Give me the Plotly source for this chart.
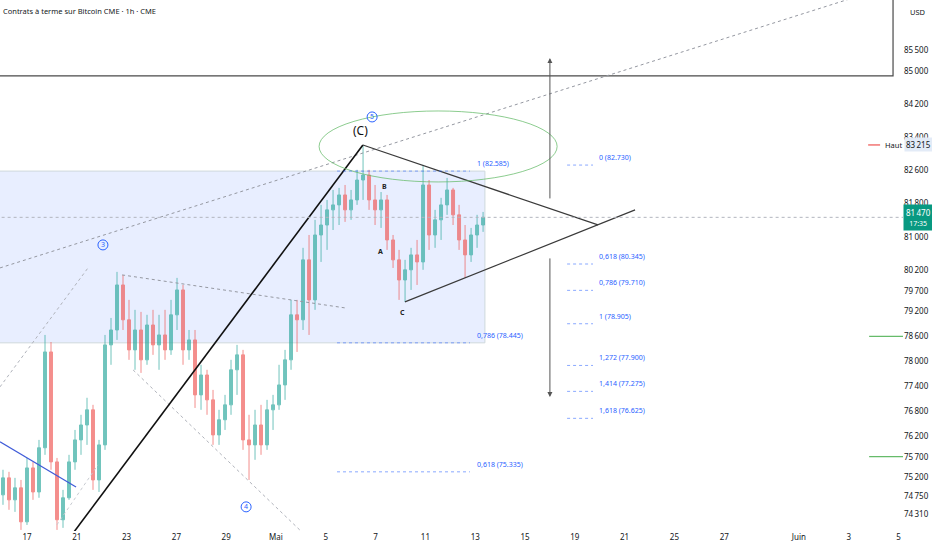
"""CME Bitcoin futures 1h chart with Elliott wave / fib drawings."""

import plotly.graph_objects as go

# Price bars (resampled to ~6h), x = trading-session days counted from 17 April
bar_open = [
    74780, 75190, 74660, 74950, 74130, 75430, 74850, 75915, 78225, 75575,
    74180, 74710, 75575, 76105, 76465, 76830, 75140, 75985, 78395, 78755,
    79840, 79000, 78275, 78755, 78035, 78875, 78395, 78635, 78275, 79120,
    79720, 78275, 78515, 77190, 77670, 77070, 76225, 76590, 76950, 77795,
    78155, 76105, 75985, 76465, 75985, 76830, 76950, 77430, 78035, 79120,
    79000, 80445, 79480, 81045, 81285, 81650, 81770, 82010, 81650, 81890,
    82370, 82490, 81890, 81650, 81890, 80925, 80445, 79960, 80205, 80565,
    80395, 82250, 81045, 81410, 81770, 82130, 81530, 80925, 80565, 81045,
    81285,
]
bar_high = [
    75385, 75335, 75190, 75140, 75670, 75575, 76105, 78635, 78465, 75670,
    74900, 75745, 76345, 76710, 77120, 76950, 76105, 78635, 79045, 80155,
    80080, 79480, 79240, 79190, 79120, 79240, 79120, 79240, 79480, 80010,
    79840, 78755, 78755, 77915, 77795, 77310, 76830, 77190, 78035, 78395,
    78275, 76710, 76830, 76950, 77070, 77190, 77915, 78275, 79480, 79480,
    80735, 81045, 81410, 81770, 81890, 82130, 82180, 82250, 82130, 82615,
    83215, 82615, 82250, 82080, 82010, 81045, 80685, 80445, 80735, 80925,
    82735, 82370, 81650, 81940, 82420, 82180, 81770, 81285, 81215, 81530,
    81600,
]
bar_low = [
    74540, 74420, 74370, 73935, 74055, 74660, 74710, 75745, 75385, 73935,
    73985, 74660, 75385, 75745, 75985, 74900, 74850, 75865, 77915, 78515,
    78755, 78035, 77795, 77720, 77915, 78155, 77795, 78035, 78155, 78755,
    77915, 78035, 76875, 76830, 76710, 75985, 75985, 76345, 76710, 77190,
    75865, 75140, 75625, 75745, 75865, 76345, 76830, 77070, 77795, 78225,
    78755, 78635, 79240, 80395, 80685, 81165, 81285, 81360, 81410, 81770,
    81890, 81650, 81285, 81215, 80685, 80250, 79480, 79430, 79720, 79840,
    80205, 80685, 80735, 80925, 81530, 81285, 80685, 80010, 80395, 80735,
    81120,
]
bar_close = [
    75190, 74660, 74950, 74130, 75430, 74850, 75915, 78225, 75575, 74180,
    74710, 75575, 76105, 76465, 76830, 75140, 75985, 78395, 78755, 79840,
    79000, 78275, 78755, 78035, 78875, 78395, 78635, 78275, 79120, 79720,
    78275, 78515, 77190, 77670, 77070, 76225, 76590, 76950, 77795, 78155,
    76105, 75985, 76465, 75985, 76830, 76950, 77430, 78035, 79120, 79000,
    80445, 79480, 81045, 81285, 81650, 81770, 82010, 81650, 81890, 82370,
    82490, 81890, 81650, 81890, 80925, 80445, 79960, 80205, 80565, 80395,
    82250, 81045, 81410, 81770, 82130, 81530, 80925, 80565, 81045, 81285,
    81470,
]
BAR_START = -0.964
BAR_STEP = 0.241
bar_x = [BAR_START + BAR_STEP * i for i in range(len(bar_close))]

date_ticks = [0, 2, 4, 6, 8, 10, 12, 14, 16, 18, 20, 22, 24, 26, 28, 31, 33, 35]
date_labels = ["17", "21", "23", "27", "29", "Mai", "5", "7", "11", "13", "15",
               "19", "21", "25", "27", "Juin", "3", "5"]
price_ticks = [85500, 85000, 84200, 83400, 82600, 81800, 81000, 80200, 79700,
               79200, 78600, 78000, 77400, 76800, 76200, 75700, 75200, 74750, 74310]

fib_left_ratio = ["1", "0,786", "0,618"]
fib_left_price = [82585, 78445, 75335]
fib_right_ratio = ["0", "0,618", "0,786", "1", "1,272", "1,414", "1,618"]
fib_right_price = [82730, 80345, 79710, 78905, 77900, 77275, 76625]

last_price = 81470
high_price = 83215
alert_prices = [78600, 75700]

FIB_BLUE = "#2962ff"
GREY = "#9598a1"


def fmt_price(p, sep="\u202f"):
    return f"{p // 1000}{sep}{p % 1000:03d}"


def segment(fig, x0, y0, x1, y1, color, width=1, dash="solid"):
    fig.add_shape(type="line", x0=x0, y0=y0, x1=x1, y1=y1,
                  line=dict(color=color, width=width, dash=dash))


fig = go.Figure()

# fib retracement box behind price
fig.add_shape(type="rect", x0=-1.5, x1=18.39, y0=fib_left_price[1], y1=fib_left_price[0],
              fillcolor="rgba(41,98,255,0.11)", line=dict(color="#cfd8dc", width=1),
              layer="below")

fig.add_trace(
    go.Candlestick(
        x=bar_x, open=bar_open, high=bar_high, low=bar_low, close=bar_close,
        increasing=dict(line=dict(color="#26a69a", width=1), fillcolor="#26a69a"),
        decreasing=dict(line=dict(color="#ef5350", width=1), fillcolor="#ef5350"),
        opacity=0.65, showlegend=False, hoverinfo="skip",
    )
)

# top-left rectangle drawing
fig.add_shape(type="rect", x0=-3, x1=34.78, y0=84878, y1=89000,
              line=dict(color="#4a4a4a", width=1.2))

# trend lines
segment(fig, -1.084, 80251, 35.06, 87119, GREY, 1, "dot")
segment(fig, 3.82, 80082, 12.77, 79287, GREY, 1, "dot")
segment(fig, -1.084, 77383, 2.45, 80251, "#b0b3bb", 1, "dot")
segment(fig, 4.26, 77792, 11.16, 73816, "#b0b3bb", 1, "dot")
segment(fig, 1.20, 74057, 2.85, 75503, "#c8cbd1", 1, "dot")
segment(fig, -1.084, 76057, 1.97, 74972, "#3f5bd8", 1.2)
segment(fig, 1.65, 73696, 13.49, high_price, "#111111", 1.6)
segment(fig, 13.49, high_price, 22.93, 81287, "#3a3a3a", 1.2)
segment(fig, 15.18, 79431, 24.42, 81649, "#3a3a3a", 1.2)

# current price line
segment(fig, -1.5, last_price, 36, last_price, "#b2b5be", 1, "dot")

# ellipse around (C)
fig.add_shape(type="circle", x0=11.73, x1=21.29, y0=82323, y1=84034,
              line=dict(color="rgba(102,187,106,0.75)", width=1))

# fib levels
for ratio, price in zip(fib_left_ratio, fib_left_price):
    segment(fig, 12.45, price, 17.79, price, "rgba(41,98,255,0.55)", 1, "dot")
    fig.add_annotation(x=17.99, y=price, text=f"{ratio} ({fmt_price(price, '.')})",
                       xanchor="left", yanchor="bottom", showarrow=False, yshift=1,
                       font=dict(size=7, color=FIB_BLUE))
for ratio, price in zip(fib_right_ratio, fib_right_price):
    segment(fig, 21.69, price, 22.73, price, "rgba(41,98,255,0.55)", 1, "dot")
    fig.add_annotation(x=22.89, y=price, text=f"{ratio} ({fmt_price(price, '.')})",
                       xanchor="left", yanchor="bottom", showarrow=False, yshift=1,
                       font=dict(size=7, color=FIB_BLUE))

# projection arrows
for tail, head in [(81890, 85312), (80516, 77142)]:
    fig.add_annotation(x=21.0, y=head, ax=21.0, ay=tail, xref="x", yref="y",
                       axref="x", ayref="y", text="", showarrow=True,
                       arrowhead=2, arrowsize=1, arrowwidth=1, arrowcolor="#555555")

# wave labels
for num, xx, yy in [("5", 13.86, 83890), ("3", 3.05, 80805), ("4", 8.80, 74491)]:
    fig.add_shape(type="circle", xref="x", yref="y", xsizemode="pixel",
                  ysizemode="pixel", xanchor=xx, yanchor=yy,
                  x0=-5, x1=5, y0=-5, y1=5, line=dict(color=FIB_BLUE, width=1))
    fig.add_annotation(x=xx, y=yy, text=num, showarrow=False,
                       font=dict(size=7, color=FIB_BLUE))
fig.add_annotation(x=13.41, y=83552, text="(C)", showarrow=False,
                   font=dict(size=12, color="#111111"))
for lab, xx, yy in [("A", 14.18, 80636), ("B", 14.34, 82203), ("C", 15.10, 79166)]:
    fig.add_annotation(x=xx, y=yy, text=f"<b>{lab}</b>", showarrow=False,
                       font=dict(size=7, color="#222222"))

# right-edge markers
segment(fig, 33.78, high_price, 34.26, high_price, "#ef5350", 1.2)
fig.add_annotation(x=34.36, y=high_price, text="Haut", xanchor="left", showarrow=False,
                   font=dict(size=7.5, color="#131722"))
fig.add_annotation(xref="paper", x=1, y=high_price, text=fmt_price(high_price),
                   xanchor="left", showarrow=False, bgcolor="#e3ebf7", xshift=1,
                   font=dict(size=8, color="#131722"))
for price in alert_prices:
    segment(fig, 33.82, price, 35.3, price, "#66bb6a", 1.2)
fig.add_annotation(xref="paper", x=1, y=last_price,
                   text=f"{fmt_price(last_price)}<br><span style='font-size:7px'>17:35</span>",
                   xanchor="left", showarrow=False, bgcolor="#089981", xshift=0,
                   borderpad=2, font=dict(size=8, color="white"))

fig.add_annotation(xref="paper", yref="paper", x=0, y=1, xanchor="left", yanchor="top",
                   xshift=1, yshift=-4, showarrow=False,
                   text="Contrats à terme sur Bitcoin CME · 1h · CME",
                   font=dict(size=7.5, color="#131722"))
fig.add_annotation(xref="paper", yref="paper", x=1, y=1, xanchor="left", yanchor="top",
                   xshift=5, yshift=-5, showarrow=False, text="USD",
                   font=dict(size=7.5, color="#131722"))

fig.update_xaxes(
    range=[-1.084, 35.18], tickvals=date_ticks, ticktext=date_labels,
    showgrid=False, zeroline=False, showline=False, ticks="",
    rangeslider=dict(visible=False), fixedrange=True,
    tickfont=dict(size=8, color="#131722"),
)
fig.update_yaxes(
    range=[73909, 86709], side="right", tickvals=price_ticks,
    ticktext=[fmt_price(p) for p in price_ticks],
    showgrid=False, zeroline=False, showline=False, ticks="",
    tickfont=dict(size=8, color="#131722"),
)
fig.update_layout(
    width=932, height=550,
    margin=dict(l=0, r=29, t=0, b=19),
    paper_bgcolor="white", plot_bgcolor="white",
    font=dict(family="Noto Sans, DejaVu Sans, sans-serif"),
    showlegend=False,
)

# the page's default 8px body margin would push the figure off the window edge
fig.write_html(
    "out.html",
    config={"displayModeBar": False},
    post_script="document.body.style.margin='0';",
)
